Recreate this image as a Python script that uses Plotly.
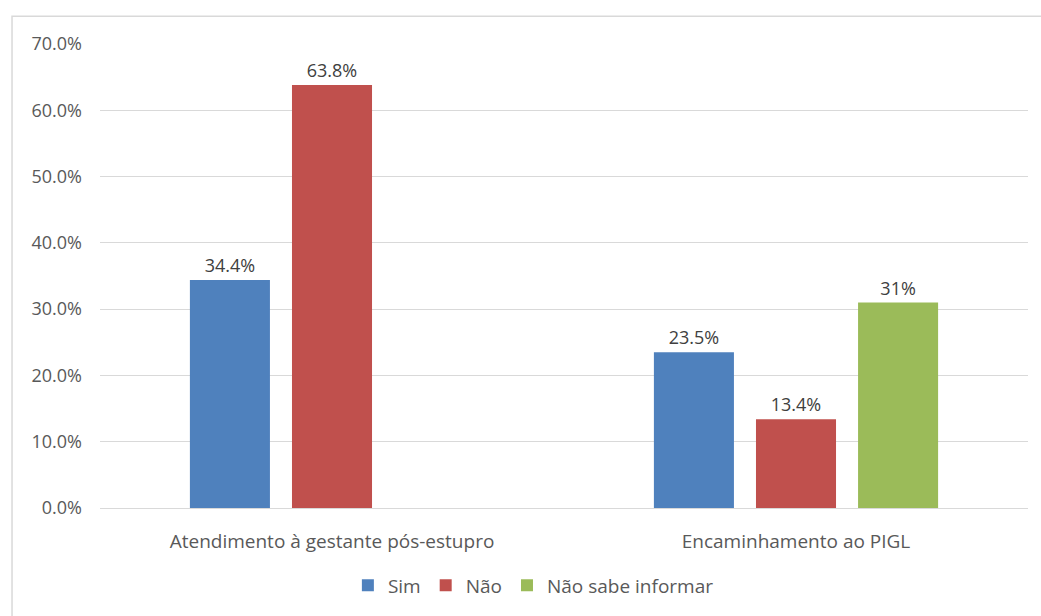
import plotly.graph_objects as go

categories = ["Atendimento à gestante pós-estupro", "Encaminhamento ao PIGL"]
series_names = ["Sim", "Não", "Não sabe informar"]
sim_values = [34.4, 23.5]
nao_values = [63.8, 13.4]
nsi_values = [None, 31.0]
sim_labels = ["34.4%", "23.5%"]
nao_labels = ["63.8%", "13.4%"]
nsi_labels = ["", "31%"]
y_ticks = [0, 10, 20, 30, 40, 50, 60, 70]
y_tick_labels = ["0.0%", "10.0%", "20.0%", "30.0%", "40.0%", "50.0%", "60.0%", "70.0%"]

colors = ["#4F81BD", "#C0504D", "#9BBB59"]
FONT = "Open Sans"

fig = go.Figure()
for name, vals, labels, col in zip(series_names,
                                   [sim_values, nao_values, nsi_values],
                                   [sim_labels, nao_labels, nsi_labels],
                                   colors):
    fig.add_trace(go.Bar(
        x=categories, y=vals, name=name, marker_color=col,
        marker_line_width=0,
        text=labels, textposition="outside", cliponaxis=False,
        textfont=dict(family=FONT, size=18, color="#404040"),
    ))

fig.update_layout(
    width=1041, height=616,
    margin=dict(l=100, r=13, t=44, b=105),
    paper_bgcolor="white", plot_bgcolor="white",
    barmode="group", bargap=0.34, bargroupgap=0.216,
    font=dict(family=FONT, size=18, color="#595959"),
    legend=dict(orientation="h", x=0.467, xanchor="center", y=-0.167, yanchor="middle",
                font=dict(family=FONT, size=19, color="#595959"),
                itemwidth=30, traceorder="normal"),
    xaxis=dict(showgrid=False, showline=True, linecolor="#D9D9D9", linewidth=1,
               ticks="", ticklabelstandoff=16,
               tickfont=dict(family=FONT, size=19, color="#595959")),
    yaxis=dict(range=[0, 70], tickvals=y_ticks, ticktext=y_tick_labels,
               showgrid=True, gridcolor="#D9D9D9", gridwidth=1,
               zeroline=False, showline=False, ticks="", ticklabelstandoff=17,
               tickfont=dict(family=FONT, size=18, color="#595959")),
    shapes=[dict(type="rect", xref="paper", yref="paper",
                 x0=-0.0948, x1=1.02, y0=-0.24, y1=1.06,
                 line=dict(color="#D9D9D9", width=1.5), layer="below")],
)

fig.write_html("out.html")
